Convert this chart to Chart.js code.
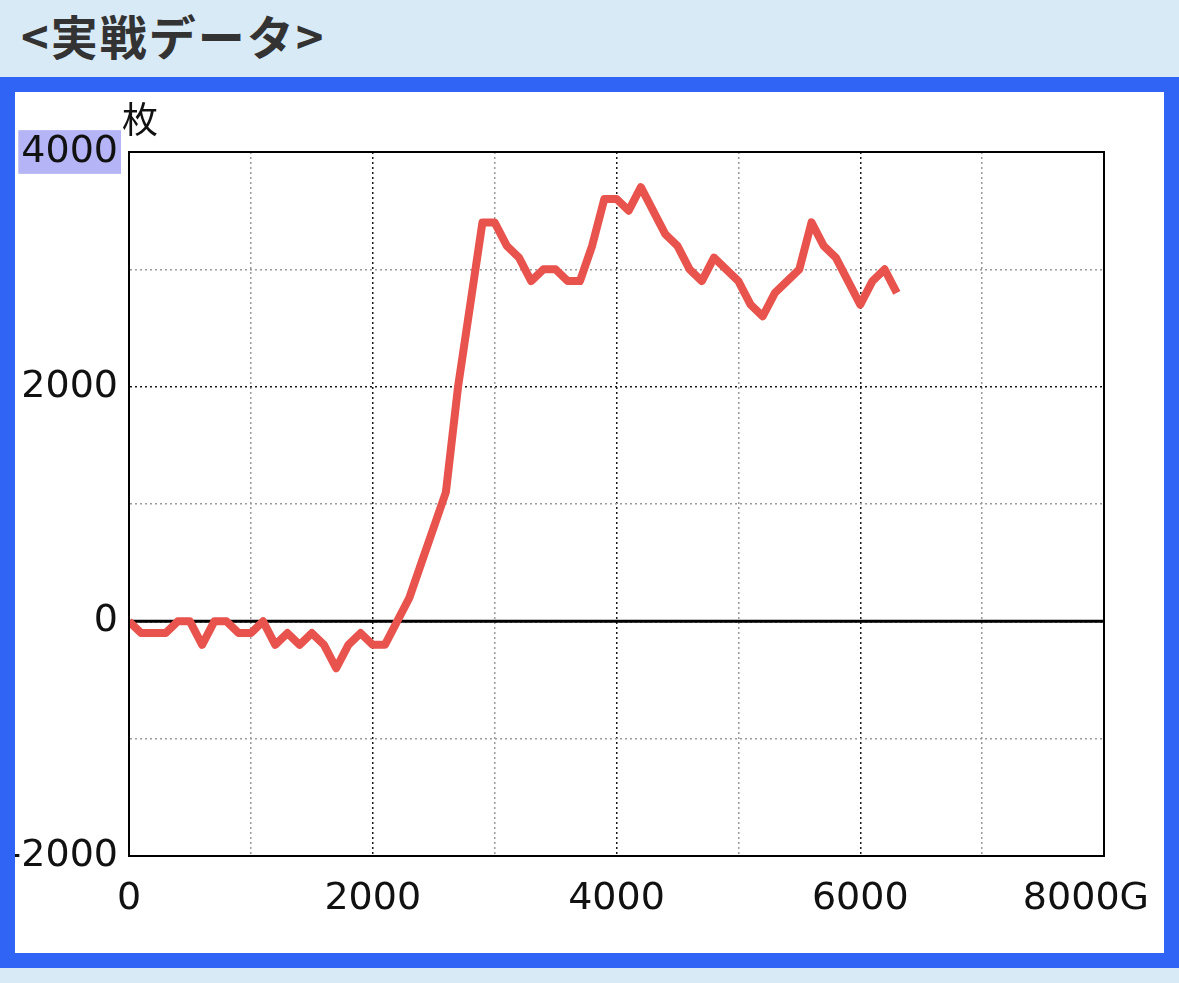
<!DOCTYPE html>
<html>
<head>
<meta charset="utf-8">
<script src="https://cdn.jsdelivr.net/npm/chart.js@4/dist/chart.umd.min.js"></script>
<style>
  html, body { margin: 0; padding: 0; }
  body { width: 1179px; height: 983px; overflow: hidden; background: #d9eaf7; }
  #head {
    height: 77px; line-height: 72px; padding-left: 21px; letter-spacing: 2px;
    font: bold 47px "Noto Sans CJK JP", sans-serif; color: #333;
  }
  #box { width: 1149px; height: 861px; border: 15px solid #2f64f4; background: #fff; }
  #c { display: block; }
</style>
</head>
<body>
<div id="head">&lt;実戦データ&gt;</div>
<div id="box"><canvas id="c" width="1149" height="861"></canvas></div>
<script>
// games played (G) and coin difference (枚)
const games = [
  0, 100, 200, 300, 400, 500, 600, 700, 800, 900,
  1000, 1100, 1200, 1300, 1400, 1500, 1600, 1700, 1800, 1900,
  2000, 2100, 2200, 2300, 2400, 2500, 2600, 2700, 2800, 2900,
  3000, 3100, 3200, 3300, 3400, 3500, 3600, 3700, 3800, 3900,
  4000, 4100, 4200, 4300, 4400, 4500, 4600, 4700, 4800, 4900,
  5000, 5100, 5200, 5300, 5400, 5500, 5600, 5700, 5800, 5900,
  6000, 6100, 6200, 6300
];
const coins = [
  0, -100, -100, -100, 0, 0, -200, 0, 0, -100,
  -100, 0, -200, -100, -200, -100, -200, -400, -200, -100,
  -200, -200, 0, 200, 500, 800, 1100, 2000, 2700, 3400,
  3400, 3200, 3100, 2900, 3000, 3000, 2900, 2900, 3200, 3600,
  3600, 3500, 3700, 3500, 3300, 3200, 3000, 2900, 3100, 3000,
  2900, 2700, 2600, 2800, 2900, 3000, 3400, 3200, 3100, 2900,
  2700, 2900, 3000, 2800
];
const xTickValues = [0, 2000, 4000, 6000, 8000];
const xTickLabels = ["0", "2000", "4000", "6000", "8000G"];
const yUnit = "枚";

const tickFont = { family: "DejaVu Sans", size: 38, lineHeight: 1.15 };
const gridColor = c => (c.tick && c.tick.value % 2000 === 0) ? "#1a1a1a" : "#9a9a9a";

const extras = {
  id: "extras",
  beforeDatasetsDraw(chart) {
    const { ctx, chartArea: a, scales: { y } } = chart;
    const y0 = y.getPixelForValue(0);
    ctx.save();
    ctx.strokeStyle = "#000";
    ctx.lineWidth = 3;
    ctx.beginPath();
    ctx.moveTo(a.left, y0);
    ctx.lineTo(a.right, y0);
    ctx.stroke();
    ctx.restore();
  },
  afterDraw(chart) {
    const { ctx, chartArea: a, scales: { x } } = chart;
    ctx.save();
    ctx.strokeStyle = "#000";
    ctx.lineWidth = 2;
    ctx.strokeRect(a.left, a.top, a.right - a.left, a.bottom - a.top);

    ctx.fillStyle = "#111";
    ctx.font = "38px 'DejaVu Sans'";
    ctx.textBaseline = "middle";
    xTickValues.forEach((v, i) => {
      const px = x.getPixelForValue(v);
      if (i === xTickValues.length - 1) {
        ctx.textAlign = "right";
        ctx.fillText(xTickLabels[i], px + 45, a.bottom + 43);
      } else {
        ctx.textAlign = "center";
        ctx.fillText(xTickLabels[i], px, a.bottom + 43);
      }
    });

    ctx.font = "36px 'Noto Sans CJK JP'";
    ctx.textAlign = "center";
    ctx.fillText(yUnit, a.left + 11, a.top - 33);
    ctx.restore();
  }
};

new Chart(document.getElementById("c"), {
  type: "line",
  data: {
    datasets: [{
      data: games.map((g, i) => ({ x: g, y: coins[i] })),
      borderColor: "#e8534d",
      borderWidth: 8,
      pointRadius: 0,
      tension: 0,
      borderJoinStyle: "round"
    }]
  },
  options: {
    responsive: false,
    animation: false,
    layout: { padding: { top: 60, right: 60, left: 0, bottom: 0 } },
    plugins: { legend: { display: false }, tooltip: { enabled: false } },
    scales: {
      x: {
        type: "linear",
        min: 0, max: 8000,
        ticks: { stepSize: 1000, display: false },
        grid: { color: gridColor, lineWidth: 1.5, drawTicks: false },
        border: { display: true, color: "#000", width: 2, dash: [2, 3] },
        afterFit: s => { s.height = 97; }
      },
      y: {
        min: -2000, max: 4000,
        ticks: {
          stepSize: 1000,
          padding: 11,
          color: "#111",
          font: tickFont,
          callback: v => (v % 2000 === 0 ? String(v) : ""),
          showLabelBackdrop: c => c.tick && c.tick.value === 4000,
          backdropColor: "#b4b4f6",
          backdropPadding: { left: 3, right: 3, top: 0, bottom: 0 }
        },
        grid: { color: gridColor, lineWidth: 1.5, drawTicks: false },
        border: { display: true, color: "#000", width: 2, dash: [2, 3] },
        afterFit: s => { s.width = 114; }
      }
    }
  },
  plugins: [extras]
});
</script>
</body>
</html>
